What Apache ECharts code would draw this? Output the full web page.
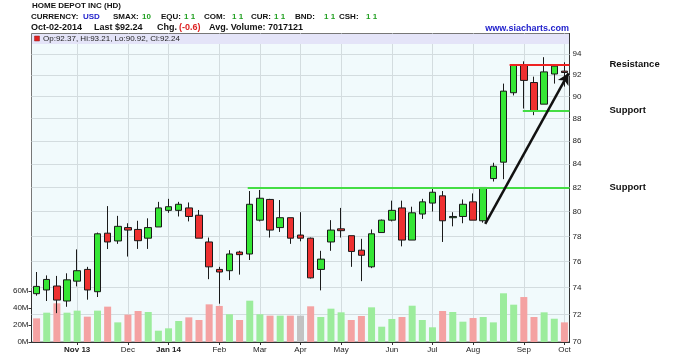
<!DOCTYPE html>
<html><head><meta charset="utf-8">
<script src="https://cdn.jsdelivr.net/npm/echarts@6/dist/echarts.min.js"></script>
<style>html,body{margin:0;padding:0;background:#fff}#c{width:700px;height:358px}</style>
</head><body><div id="c"></div>
<script>
// ---------- DATA ----------
const categories = [
 '2013-10-04','2013-10-11','2013-10-18','2013-10-25',
 '2013-11-01','2013-11-08','2013-11-15','2013-11-22','2013-11-29',
 '2013-12-06','2013-12-13','2013-12-20','2013-12-27',
 '2014-01-03','2014-01-10','2014-01-17','2014-01-24','2014-01-31',
 '2014-02-07','2014-02-14','2014-02-21','2014-02-28',
 '2014-03-07','2014-03-14','2014-03-21','2014-03-28',
 '2014-04-04','2014-04-11','2014-04-18','2014-04-25',
 '2014-05-02','2014-05-09','2014-05-16','2014-05-23','2014-05-30',
 '2014-06-06','2014-06-13','2014-06-20','2014-06-27',
 '2014-07-04','2014-07-11','2014-07-18','2014-07-25',
 '2014-08-01','2014-08-08','2014-08-15','2014-08-22','2014-08-29',
 '2014-09-05','2014-09-12','2014-09-19','2014-09-26',
 '2014-10-02'
];
const monthLabels = {
 '2013-11-01':'Nov 13','2013-12-06':'Dec','2014-01-03':'Jan 14','2014-02-07':'Feb',
 '2014-03-07':'Mar','2014-04-04':'Apr','2014-05-02':'May','2014-06-06':'Jun',
 '2014-07-04':'Jul','2014-08-01':'Aug','2014-09-05':'Sep','2014-10-02':'Oct'
};
const boldMonthLabels = ['Nov 13','Jan 14'];

const openP  = [73.55,73.83,74.13,73.0,74.5,75.4,73.7,78.25,77.63,78.7,78.55,77.85,78.75,80.1,80.1,80.3,79.7,77.55,75.4,75.3,76.75,76.6,79.3,81.0,78.7,79.5,78.1,77.85,75.4,77.55,78.6,78.05,76.9,75.6,78.3,79.3,80.3,77.7,79.8,80.7,81.3,79.5,79.6,80.8,79.25,82.75,84.15,90.35,92.95,91.3,89.3,92.1,92.37];
const closeP = [74.1,74.63,73.07,74.6,75.3,73.83,78.2,77.55,78.8,78.5,77.65,78.7,80.3,80.4,80.6,79.6,77.85,75.6,75.2,76.6,76.55,80.6,81.1,78.5,79.5,77.85,77.85,74.75,76.2,78.5,78.45,76.8,76.5,78.2,79.3,80.1,77.7,79.9,80.8,81.6,79.25,79.6,80.6,79.3,82.0,83.8,90.5,92.95,91.5,88.7,92.3,92.85,92.24];
const lowP   = [73.4,73.0,72.1,72.57,74.1,73.1,73.3,76.99,77.4,76.4,77.0,77.0,78.75,79.9,79.6,79.2,77.85,74.65,72.8,74.58,75.0,76.13,79.2,77.9,78.35,77.4,77.6,74.7,73.8,76.85,77.9,75.6,74.5,75.5,78.3,79.2,77.2,77.7,79.4,80.0,77.55,78.8,79.05,79.3,79.1,82.5,82.7,90.1,88.9,88.3,89.3,91.2,90.92];
const highP  = [75.2,74.94,74.9,75.1,76.96,75.6,78.3,80.45,79.65,79.05,79.25,79.45,80.8,81.05,80.8,80.75,80.13,77.9,75.6,76.9,76.85,81.7,81.79,81.05,80.95,79.5,79.95,77.9,76.85,79.3,80.3,78.05,77.8,78.55,79.35,80.9,80.9,80.4,81.05,81.9,81.7,79.95,81.0,81.5,82.0,84.1,91.2,93.0,93.3,91.85,93.7,93.0,93.21];

// weekly volume, millions
const volumeM = [27.8,34.5,45.5,34.5,36.9,29.8,36.9,41.6,23.1,32.2,36.5,35.3,13.3,16.1,24.7,29.0,25.9,44.3,42.4,32.6,25.9,48.6,32.6,31.0,31.0,31.0,31.0,42.0,29.4,39.2,34.9,25.9,30.6,40.8,18.0,27.1,29.4,42.7,25.9,17.3,36.5,35.3,23.9,28.2,29.4,23.1,57.3,43.9,52.9,29.4,34.9,27.4,23.1];
// volume bar direction: u = up, d = down, n = unchanged
const volumeDir = ['d','u','d','u','u','d','u','d','u','d','d','u','u','u','u','d','d','d','d','u','d','u','u','d','u','d','n','d','u','u','u','d','d','u','u','u','d','u','u','u','d','u','u','d','u','u','u','u','d','d','u','u','d'];

const priceTicks  = [70,72,74,76,78,80,82,84,86,88,90,92,94];
const volumeTicks = [0,20,40,60];

// drawn levels (price, starting week position)
const levels = [
 {name:'Resistance', price:93.0, from:46.6, color:'#ee2222'},
 {name:'Support',    price:88.7, from:47.9, color:'#44dd44'},
 {name:'Support',    price:82.0, from:20.8, color:'#44dd44'}
];
const trendArrow = [[44.2, 79.0], [52.4, 92.16]];

// header
const titleText = 'HOME DEPOT INC (HD)';
const headerLine2 = [['CURRENCY:',31,'#111'],['USD',83,'#2222cc'],['SMAX:',113,'#111'],['10',142,'#22a022'],
 ['EQU:',161,'#111'],['1 1',184,'#22a022'],['COM:',204,'#111'],['1 1',232,'#22a022'],
 ['CUR:',251,'#111'],['1 1',274,'#22a022'],['BND:',295,'#111'],['1 1',324,'#22a022'],
 ['CSH:',339,'#111'],['1 1',366,'#22a022']];
const headerLine3 = [['Oct-02-2014',31,'#111'],['Last $92.24',94,'#111'],['Chg.',157,'#111'],['(-0.6)',179,'#dd2222'],['Avg. Volume: 7017121',209,'#111']];
const ohlcText = 'Op:92.37, Hi:93.21, Lo:90.92, Cl:92.24';
const siteText = 'www.siacharts.com';

// ---------- CHART ----------
const FONT = 'Liberation Sans, Arial, sans-serif';
const isMonth = (idx, val) => monthLabels[val !== undefined ? val : categories[idx]] !== undefined;
const candleData = categories.map((c,i)=>[openP[i], closeP[i], lowP[i], highP[i]]);
const volColors = {u:'#9cec9c', d:'#f4a2a2', n:'#c2c2c2'};
const volData = volumeM.map((v,i)=>({value:v, itemStyle:{color:volColors[volumeDir[i]]}}));

const monthIdx = categories.map((c,i)=>monthLabels[c] ? i : -1).filter(i=>i>=0);
const gridLineData = monthIdx.map(i=>({xAxis:i}))
  .concat(priceTicks.filter(p=>p>70).map(p=>({yAxis:p})));

const markData = levels.map(l => [
  {coord:[l.from, l.price], lineStyle:{color:l.color, width:2, type:'solid'},
   label:{show:true, formatter:l.name}},
  {coord:[52.5, l.price]}
]);
markData.push([
  {coord:trendArrow[0], symbol:'none', lineStyle:{color:'#111', width:2.5, type:'solid'}, label:{show:false}},
  {coord:trendArrow[1], symbol:'arrow', symbolSize:[9,11]}
]);

const graphics = [];
graphics.push({type:'rect', z:5, shape:{x:32, y:34, width:537, height:10}, style:{fill:'#e4e4f8'}, silent:true});
graphics.push({type:'rect', z:6, shape:{x:34.5, y:36, width:5, height:5}, style:{fill:'#e02020', stroke:'#902020', lineWidth:0.5}, silent:true});
graphics.push({type:'text', z:6, x:43, y:39, style:{text:ohlcText, font:'8px '+FONT, fill:'#222', verticalAlign:'middle'}});
graphics.push({type:'text', x:32, y:5.5, style:{text:titleText, font:'bold 8px '+FONT, fill:'#111', verticalAlign:'middle'}});
headerLine2.forEach(t=>graphics.push({type:'text', x:t[1], y:16.5, style:{text:t[0], font:'bold 8px '+FONT, fill:t[2], verticalAlign:'middle'}}));
headerLine3.forEach(t=>graphics.push({type:'text', x:t[1], y:28, style:{text:t[0], font:'bold 9px '+FONT, fill:t[2], verticalAlign:'middle'}}));
graphics.push({type:'text', x:569, y:28.5, style:{text:siteText, font:'bold 9px '+FONT, fill:'#2222cc', align:'right', verticalAlign:'middle'}});

const option = {
  animation:false,
  backgroundColor:'#ffffff',
  textStyle:{fontFamily:FONT},
  grid:[
    {left:31.5, right:130.5, top:33.5, bottom:16, show:true, backgroundColor:'#f1fafc', borderColor:'#777', borderWidth:1},
    {left:31.5, right:130.5, top:291, bottom:16, show:false}
  ],
  xAxis:[
    {type:'category', gridIndex:0, data:categories, boundaryGap:true,
     axisLine:{onZero:false, lineStyle:{color:'#333'}},
     axisTick:{show:true, alignWithLabel:true, interval:isMonth, length:3, lineStyle:{color:'#333'}},
     axisLabel:{interval:isMonth, fontSize:8, color:'#222', margin:4,
       formatter:(v)=>{const t=monthLabels[v]||''; return boldMonthLabels.includes(t)?'{b|'+t+'}':t;},
       rich:{b:{fontWeight:'bold', fontSize:8, color:'#222'}}},
     splitLine:{show:false}},
    {type:'category', gridIndex:1, data:categories, boundaryGap:true, show:false},
    {type:'value', gridIndex:0, min:-0.5, max:52.5, show:false, splitLine:{show:false}, axisLine:{onZero:false}}
  ],
  yAxis:[
    {type:'log', gridIndex:0, position:'right', logBase:10, min:70, max:96,
     axisLine:{show:true, onZero:false, lineStyle:{color:'#333'}},
     axisTick:{show:true, inside:true, length:3, customValues:priceTicks, lineStyle:{color:'#333'}},
     axisLabel:{customValues:priceTicks, fontSize:8, color:'#222', margin:3},
     splitLine:{show:false}},
    {type:'value', gridIndex:1, position:'left', min:0, max:60, interval:20,
     axisLine:{show:true, onZero:false, lineStyle:{color:'#333'}},
     axisTick:{show:true, length:3, lineStyle:{color:'#333'}},
     axisLabel:{formatter:'{value}M', fontSize:8, color:'#222', margin:3, customValues:volumeTicks},
     splitLine:{show:false}}
  ],
  series:[
    {type:'line', name:'grid', xAxisIndex:2, yAxisIndex:0, data:[], z:1,
     markLine:{silent:true, z:1, symbol:['none','none'], animation:false, label:{show:false},
       emphasis:{disabled:true},
       lineStyle:{color:'#d3dcdf', width:1, type:'solid'}, data:gridLineData}},
    {type:'bar', name:'Volume', xAxisIndex:1, yAxisIndex:1, data:volData, barWidth:7, z:2, silent:true},
    {type:'candlestick', name:'HD', xAxisIndex:0, yAxisIndex:0, data:candleData, barWidth:7, z:3,
     itemStyle:{color:'#35e635', color0:'#ee3030', borderColor:'#1a1a1a', borderColor0:'#1a1a1a', borderWidth:1}},
    {type:'line', name:'marks', xAxisIndex:2, yAxisIndex:0, data:[], z:4,
     markLine:{silent:true, z:5, symbol:['none','none'], animation:false,
       label:{position:'end', distance:40, fontSize:9.5, fontWeight:'bold', color:'#111'},
       emphasis:{disabled:true},
       data:markData}}
  ],
  graphic:graphics
};
const chart = echarts.init(document.getElementById('c'));
chart.setOption(option);
</script></body></html>
